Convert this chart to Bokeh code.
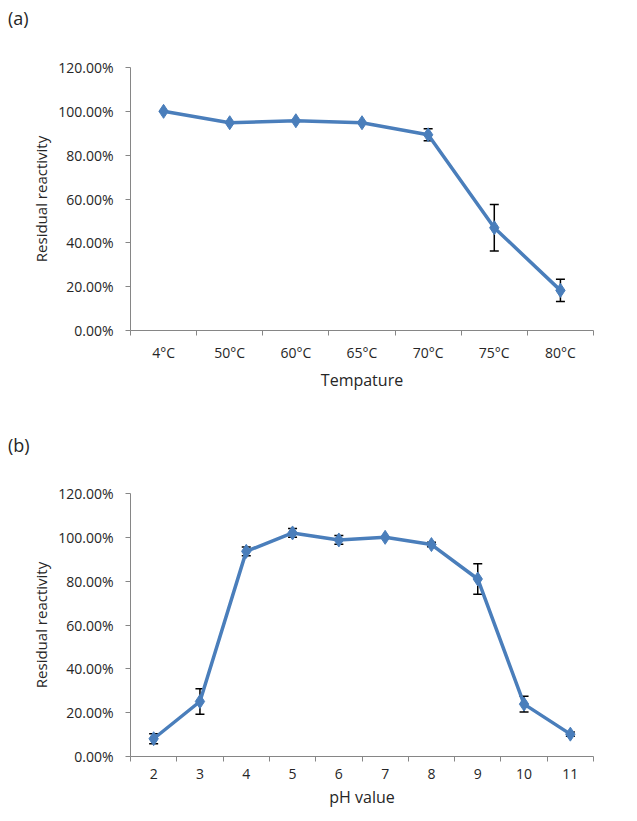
from bokeh.plotting import figure
from bokeh.models import (Range1d, FixedTicker, NumeralTickFormatter, Whisker, TeeHead,
                          ColumnDataSource, Div)
from bokeh.layouts import column
from bokeh.embed import file_html
from bokeh.resources import INLINE

# Panel (a): temperature stability
temp_labels = ["4°C", "50°C", "60°C", "65°C", "70°C", "75°C", "80°C"]
temp_values = [1.000, 0.948, 0.957, 0.948, 0.893, 0.469, 0.183]
temp_errors = [0.000, 0.000, 0.000, 0.000, 0.027, 0.106, 0.051]

# Panel (b): pH stability
ph_values_x = [2, 3, 4, 5, 6, 7, 8, 9, 10, 11]
ph_values = [0.081, 0.251, 0.936, 1.020, 0.988, 1.000, 0.967, 0.810, 0.239, 0.102]
ph_errors = [0.023, 0.058, 0.020, 0.020, 0.020, 0.000, 0.010, 0.070, 0.036, 0.010]

y_ticks = [0, 0.2, 0.4, 0.6, 0.8, 1.0, 1.2]

FONT = "Open Sans"
BLUE = "#4a7ebb"
AXIS = "#868686"
TEXT = "#262626"


def make_panel(xs, labels, vals, errs, xlabel, height, top, bottom, right):
    p = figure(width=629, height=height, output_backend="svg", toolbar_location=None,
               min_border_left=130, min_border_right=right, min_border_top=top,
               min_border_bottom=bottom)
    p.x_range = Range1d(xs[0] - 0.5, xs[-1] + 0.5)
    p.y_range = Range1d(0, 1.2)
    p.outline_line_color = None
    p.xgrid.visible = False
    p.ygrid.visible = False

    src = ColumnDataSource(dict(x=xs, y=vals,
                                lo=[v - e for v, e in zip(vals, errs)],
                                hi=[v + e for v, e in zip(vals, errs)]))

    w = Whisker(base="x", upper="hi", lower="lo", source=src, level="underlay",
                line_color="black", line_width=1.5,
                upper_head=TeeHead(size=9, line_color="black", line_width=1.5),
                lower_head=TeeHead(size=9, line_color="black", line_width=1.5))
    p.add_layout(w)
    p.line("x", "y", source=src, line_color=BLUE, line_width=3.5)
    p.scatter("x", "y", source=src, marker="diamond", size=14,
              fill_color=BLUE, line_color=BLUE)

    xa = p.xaxis[0]
    xa.ticker = FixedTicker(ticks=list(xs),
                            minor_ticks=[x - 0.5 for x in xs] + [xs[-1] + 0.5])
    xa.major_label_overrides = {x: l for x, l in zip(xs, labels)}
    xa.major_tick_line_color = None
    xa.major_tick_out = 0
    xa.major_tick_in = 0
    xa.minor_tick_line_color = AXIS
    xa.minor_tick_out = 5
    xa.minor_tick_in = 0
    xa.axis_line_color = AXIS
    xa.major_label_standoff = 7
    xa.major_label_text_font = FONT
    xa.major_label_text_font_size = "14px"
    xa.major_label_text_color = TEXT
    xa.axis_label = xlabel
    xa.axis_label_text_font = FONT
    xa.axis_label_text_font_size = "16px"
    xa.axis_label_text_font_style = "normal"
    xa.axis_label_text_color = TEXT
    xa.axis_label_standoff = 4

    ya = p.yaxis[0]
    ya.ticker = FixedTicker(ticks=y_ticks, minor_ticks=[])
    ya.formatter = NumeralTickFormatter(format="0.00%")
    ya.axis_line_color = AXIS
    ya.major_tick_line_color = AXIS
    ya.major_tick_out = 5
    ya.major_tick_in = 0
    ya.major_label_standoff = 12
    ya.major_label_text_font = FONT
    ya.major_label_text_font_size = "14px"
    ya.major_label_text_color = TEXT
    ya.axis_label = "Residual reactivity"
    ya.axis_label_text_font = FONT
    ya.axis_label_text_font_size = "15px"
    ya.axis_label_text_font_style = "normal"
    ya.axis_label_text_color = TEXT
    ya.axis_label_standoff = 4
    return p


def make_tag(text, height, pad):
    return Div(text=text, width=70, height=height, margin=0,
               styles={"font-family": FONT, "font-size": "18px", "color": TEXT,
                       "padding-top": f"{pad}px", "padding-left": "8px",
                       "line-height": "23px", "box-sizing": "border-box"})


tag_a = make_tag("(a)", 30, 7)
p1 = make_panel(list(range(1, len(temp_labels) + 1)), temp_labels, temp_values, temp_errors,
                "Tempature", 380, 37, 80, 36)
tag_b = make_tag("(b)", 45, 24)
p2 = make_panel(ph_values_x, [str(v) for v in ph_values_x], ph_values, ph_errors,
                "pH value", 363, 38, 62, 2)

layout = column(tag_a, p1, tag_b, p2, spacing=0)
open("out.html", "w").write(file_html(layout, INLINE))
